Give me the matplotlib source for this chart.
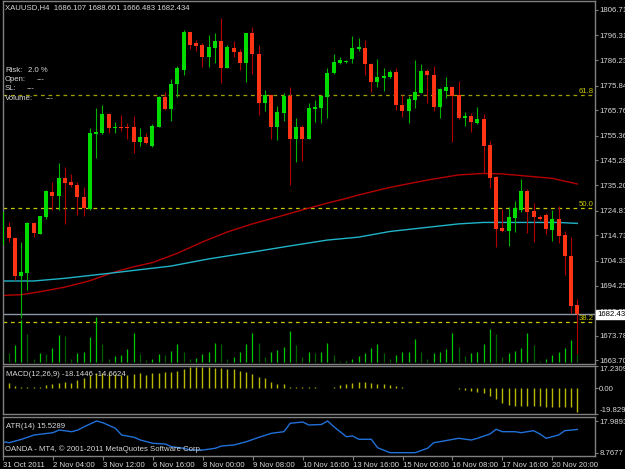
import numpy as np
import matplotlib
matplotlib.use("Agg")
import matplotlib.pyplot as plt

plt.rcParams['font.family'] = ['Liberation Sans', 'DejaVu Sans']

# XAUUSD H4 candles
opens = [1710.8, 1718.3, 1713.5, 1698.1, 1699.5, 1719.9, 1715.3, 1722.1, 1732.5, 1730.8,
         1738.0, 1736.4, 1735.3, 1730.5, 1725.4, 1756.1, 1756.6, 1764.3, 1758.7, 1759.1,
         1759.1, 1758.8, 1752.9, 1754.7, 1751.2, 1759.1, 1771.1, 1766.2, 1776.4, 1782.2,
         1797.6, 1793.1, 1792.4, 1787.4, 1791.3, 1794.2, 1783.1, 1791.3, 1789.4, 1784.9,
         1797.2, 1788.7, 1768.9, 1772.0, 1759.1, 1764.8, 1771.6, 1754.0, 1759.1, 1754.0,
         1766.3, 1766.8, 1771.3, 1780.9, 1784.9, 1785.5, 1786.6, 1790.7, 1791.3, 1784.5,
         1777.4, 1778.8, 1779.5, 1781.3, 1767.9, 1765.6, 1770.0, 1772.9, 1781.8, 1780.2,
         1767.2, 1773.8, 1775.1, 1772.0, 1762.7, 1763.4, 1760.7, 1762.1, 1751.6, 1738.4,
         1717.6, 1716.6, 1721.9, 1725.1, 1733.0, 1724.7, 1722.3, 1723.0, 1716.9, 1721.4,
         1714.9, 1706.4, 1686.107]
highs = [1724.7, 1720.1, 1714.1, 1712.1, 1720.2, 1720.3, 1722.8, 1733.2, 1736.6, 1744.1,
         1742.5, 1739.8, 1736.6, 1734.6, 1758.4, 1766.6, 1767.9, 1764.8, 1761.1, 1763.8,
         1760.7, 1763.4, 1758.4, 1756.4, 1760.2, 1771.6, 1773.4, 1778.4, 1783.8, 1798.6,
         1797.9, 1794.5, 1793.4, 1796.5, 1797.2, 1803.4, 1792.4, 1794.2, 1790.7, 1797.4,
         1799.6, 1792.4, 1774.0, 1772.4, 1767.5, 1772.7, 1775.1, 1762.5, 1759.8, 1768.9,
         1770.0, 1772.0, 1782.9, 1788.7, 1787.4, 1786.3, 1796.1, 1795.1, 1794.5, 1784.9,
         1786.6, 1782.9, 1782.2, 1782.9, 1772.0, 1771.6, 1786.3, 1784.7, 1782.5, 1783.8,
         1774.7, 1779.5, 1775.7, 1777.8, 1764.9, 1764.5, 1767.0, 1764.3, 1753.4, 1738.9,
         1725.4, 1726.2, 1728.7, 1737.7, 1733.5, 1728.0, 1723.0, 1723.7, 1725.1, 1726.7,
         1716.6, 1713.9, 1688.601]
lows = [1710.4, 1712.1, 1696.5, 1681.0, 1692.4, 1714.2, 1715.1, 1721.4, 1725.1, 1725.1,
        1719.4, 1734.6, 1723.0, 1722.6, 1725.1, 1746.2, 1756.1, 1756.6, 1756.6, 1757.4,
        1753.9, 1748.5, 1751.2, 1752.0, 1750.9, 1758.8, 1765.9, 1761.5, 1771.3, 1780.2,
        1790.7, 1790.1, 1783.6, 1783.6, 1784.9, 1776.8, 1782.9, 1787.6, 1782.2, 1777.4,
        1780.6, 1763.8, 1765.6, 1753.9, 1753.6, 1761.5, 1735.3, 1744.8, 1745.2, 1753.9,
        1761.1, 1760.7, 1762.5, 1780.6, 1784.8, 1785.1, 1785.2, 1790.1, 1780.2, 1773.4,
        1775.4, 1773.8, 1778.8, 1765.9, 1762.9, 1760.5, 1766.6, 1772.7, 1768.6, 1765.6,
        1762.5, 1770.7, 1752.9, 1762.1, 1759.4, 1757.0, 1760.2, 1740.0, 1733.9, 1710.1,
        1716.2, 1710.5, 1716.0, 1724.4, 1715.8, 1712.1, 1721.0, 1715.3, 1712.5, 1711.7,
        1698.5, 1682.9, 1666.483]
closes = [1724.4, 1713.5, 1698.1, 1699.9, 1719.9, 1715.6, 1722.6, 1733.0, 1730.8, 1738.0,
          1736.2, 1735.3, 1730.5, 1725.8, 1756.4, 1757.0, 1764.3, 1758.4, 1759.1, 1758.7,
          1758.7, 1752.9, 1754.7, 1752.3, 1759.5, 1771.1, 1766.2, 1776.5, 1782.9, 1797.9,
          1792.4, 1792.0, 1787.6, 1791.7, 1794.2, 1783.1, 1791.5, 1789.4, 1784.9, 1797.2,
          1788.7, 1768.9, 1772.0, 1759.1, 1765.2, 1771.6, 1754.0, 1759.1, 1754.0, 1766.8,
          1767.0, 1771.6, 1781.1, 1785.6, 1786.3, 1785.9, 1791.1, 1791.6, 1784.5, 1777.4,
          1779.2, 1779.9, 1781.3, 1767.9, 1765.6, 1770.4, 1773.4, 1781.8, 1780.2, 1767.2,
          1774.3, 1775.1, 1771.6, 1762.7, 1763.6, 1760.9, 1762.1, 1751.2, 1738.0, 1717.3,
          1716.6, 1722.3, 1725.8, 1733.0, 1724.4, 1722.3, 1721.3, 1717.3, 1721.4, 1714.5,
          1706.3, 1686.0, 1682.434]
volumes = [550, 440, 850, 2100, 1400, 150, 440, 390, 720, 1370,
           1300, 150, 440, 520, 1250, 2250, 900, 150, 290, 350,
           640, 1450, 390, 100, 140, 390, 350, 550, 900, 520,
           150, 220, 400, 520, 940, 900, 150, 250, 490, 900,
           1470, 950, 250, 490, 600, 750, 1550, 840, 250, 520,
           440, 520, 940, 350, 50, 50, 150, 320, 440, 720,
           890, 470, 150, 350, 490, 520, 1140, 490, 150, 470,
           520, 640, 1450, 750, 290, 440, 490, 890, 1650, 1390,
           250, 470, 550, 720, 1450, 850, 50, 150, 350, 520,
           690, 1100, 390]
macd_hist = [5.1, 4.4, 1.8, 0.8, 0.8, 0.8, 1.3, 2.6, 3.3, 4.4,
             5.1, 4.4, 6.4, 7.7, 10.3, 11.6, 12.1, 11.6, 11.1, 10.3,
             10.3, 11.1, 11.6, 10.3, 11.6, 12.1, 12.9, 12.9, 13.4, 14.7,
             16.2, 16.7, 16.2, 16.2, 15.5, 15.5, 14.7, 14.7, 13.7, 12.9,
             11.1, 9.0, 7.7, 5.1, 3.3, 3.3, 0.8, 0.8, 1.3, 0.8,
             0.8, 0.4, 0.4, 0.8, 2.6, 3.3, 4.4, 5.1, 5.1, 3.9,
             3.3, 3.3, 2.8, 1.8, 0.8, 0.3, 0.0, 0.3, 0.5, 0.0,
             0.0, 0.0, 0.0, -0.5, -1.3, -2.1, -2.6, -3.9, -5.9, -8.5,
             -11.6, -12.9, -13.7, -13.7, -13.7, -13.7, -13.7, -14.2, -14.2, -14.2,
             -14.2, -14.2, -18.1446]

atr_idx = [0, 1, 3, 5, 8, 9, 11, 12, 13, 15, 16, 18, 19, 21, 22, 24, 26, 27, 29, 30,
           32, 34, 35, 37, 39, 41, 43, 45, 46, 48, 49, 51, 52, 53, 55, 56, 57, 59, 60, 62,
           64, 66, 68, 69, 70, 73, 75, 76, 78, 79, 80, 82, 83, 85, 86, 87, 89, 90, 92]
atr_val = [11.97, 11.68, 12.67, 13.92, 14.59, 15.37, 14.88, 15.37, 16.33, 17.99, 17.49, 15.87,
           13.92, 13.25, 12.46, 11.50, 11.30, 10.51, 10.05, 9.55, 9.55, 10.05, 10.72, 11.01,
           11.97, 13.25, 14.41, 14.88, 17.32, 17.70, 16.83, 16.97, 17.99, 16.33, 13.42, 13.63,
           12.67, 12.67, 10.22, 8.77, 8.77, 8.77, 10.05, 11.68, 11.97, 12.96, 12.46, 12.96,
           14.21, 15.58, 14.88, 14.88, 14.59, 15.17, 14.21, 12.96, 13.92, 15.17, 15.53]

ma_slow_idx = [0, 3, 6, 10, 14, 18, 21, 24, 28, 32, 36, 40, 44, 48, 52, 55, 57, 62, 68, 73,
               77, 80, 84, 88, 92]
ma_slow_val = [1690.2, 1690.5, 1691.7, 1693.6, 1696.2, 1699.8, 1701.9, 1703.6, 1707.4, 1712.0,
               1716.1, 1719.4, 1722.2, 1725.1, 1727.9, 1729.8, 1731.2, 1734.3, 1737.3, 1739.4,
               1740.0, 1739.8, 1738.9, 1738.0, 1735.7]
ma_fast_idx = [0, 5, 10, 17, 27, 33, 40, 46, 52, 57, 62, 68, 73, 77, 89, 92]
ma_fast_val = [1696.1, 1696.1, 1697.2, 1699.2, 1702.2, 1705.1, 1707.9, 1710.4, 1712.8, 1714.0,
               1716.3, 1718.0, 1719.4, 1720.0, 1720.0, 1719.6]

fib_levels = [1772.0, 1725.8, 1679.4]
fib_names = ['61.8', '50.0', '38.2']
last_price = 1682.43

price_ticks = [1806.71, 1796.31, 1786.23, 1775.84, 1765.76, 1755.36, 1745.28, 1735.20,
               1724.81, 1714.73, 1704.33, 1694.25, 1683.85, 1673.78, 1663.70]
macd_ticks = [17.2309, 0.0, -19.8291]
macd_labels = ['17.2309', '0.00', '-19.8291']
atr_ticks = [17.9893, 8.7677]
time_idx = [0, 8, 16, 24, 32, 40, 48, 56, 64, 72, 80, 88]
time_labels = ['31 Oct 2011', '2 Nov 04:00', '3 Nov 12:00', '6 Nov 16:00', '8 Nov 00:00',
               '9 Nov 08:00', '10 Nov 16:00', '13 Nov 16:00', '15 Nov 00:00',
               '16 Nov 08:00', '17 Nov 16:00', '20 Nov 20:00']

W, H = 625, 469
L, R = 3, 595
bar_px, first_px = 6.25, 2.3
xlo = (L - first_px) / bar_px
xhi = (R - first_px) / bar_px
FS = 5.6
TXT = '#d8d8d8'
GRID = '#808080'

fig = plt.figure(figsize=(W / 100, H / 100), dpi=100, facecolor='black')


def panel(top, bottom):
    a = fig.add_axes([L / W, 1 - bottom / H, (R - L) / W, (bottom - top) / H])
    a.set_facecolor('black')
    a.set_xlim(xlo, xhi)
    for s in a.spines.values():
        s.set_color(GRID)
        s.set_linewidth(1)
    a.yaxis.tick_right()
    a.tick_params(axis='y', colors=GRID, labelcolor=TXT, labelsize=FS, length=2, width=0.8, pad=1)
    a.tick_params(axis='x', length=0, labelbottom=False)
    return a


x = np.arange(len(opens))
o = np.array(opens)
c = np.array(closes)
up = c >= o

# ---- main price panel
ax = panel(1, 364)
ax.set_ylim(1662.22, 1810.38)

vax = ax.twinx()
vax.set_ylim(-100, 18050)
vax.set_xlim(xlo, xhi)
vax.set_yticks([])
vax.tick_params(axis='both', length=0, labelleft=False, labelright=False)
for s in vax.spines.values():
    s.set_visible(False)
vcol = ['#00c800' if i == 0 or volumes[i] >= volumes[i - 1] else '#006000' for i in range(len(volumes))]
vax.vlines(x, 0, volumes, colors=vcol, lw=0.9)

# twinx moved the price ticks to the left, put them back on the right
ax.yaxis.tick_right()
ax.set_yticks(price_ticks)
ax.set_yticklabels(['%.2f' % v for v in price_ticks])
ax.tick_params(axis='y', left=False, labelleft=False, right=True, labelright=True,
               colors=GRID, labelcolor=TXT, labelsize=FS, length=2, width=0.8, pad=1)

for lvl, name, col in zip(fib_levels, fib_names, ['#a0a000', '#c8c800', '#c8c800']):
    ax.axhline(lvl, color=col, lw=0.9, ls=(0, (3, 3)), zorder=1)
    ax.text(0.998, lvl, name, transform=ax.get_yaxis_transform(), ha='right', va='bottom',
            color='#c8c800', fontsize=FS)
ax.axhline(last_price, color='#8c98a4', lw=1, zorder=1)

ax.plot(ma_slow_idx, ma_slow_val, color='#b40000', lw=1, zorder=2)
ax.plot(ma_fast_idx, ma_fast_val, color='#20b4c8', lw=1, zorder=2)

wick_col = np.where(up, '#00b400', '#b40000')
body_col = np.where(up, '#00dc00', '#ff3414')
ax.vlines(x, lows, highs, colors=wick_col, lw=0.8, zorder=3)
body_h = np.maximum(np.abs(c - o), 0.4)
ax.bar(x, body_h, bottom=np.minimum(o, c), width=0.64, color=body_col, lw=0, zorder=4)

ax.text(1.004, last_price, '%.2f' % last_price, transform=ax.get_yaxis_transform(),
        ha='left', va='center', fontsize=FS, color='black', zorder=10, clip_on=False,
        bbox=dict(boxstyle='square,pad=0.15', fc='white', ec='white'))

# ---- MACD panel
mx = panel(366, 414)
mx.set_ylim(-19.8291, 17.2309)
mx.vlines(x, 0, macd_hist, colors='#b8b800', lw=1.0)
mx.set_yticks(macd_ticks)
mx.set_yticklabels(macd_labels)
tl = mx.get_yticklabels()
tl[0].set_va('top')
tl[-1].set_va('bottom')

# ---- ATR panel
tx = panel(417, 456)
tx.set_ylim(7.808, 19.153)
tx.plot(atr_idx, atr_val, color='#2070d8', lw=1)
tx.set_yticks(atr_ticks)
tx.set_yticklabels(['%.4f' % v for v in atr_ticks])
tx.set_xticks(time_idx)
tx.set_xticklabels(time_labels, ha='left')
tx.tick_params(axis='x', length=3, width=0.8, colors=GRID, labelcolor=TXT, labelsize=FS,
               pad=1, labelbottom=True)

# ---- texts
def ftext(px, py, s, **kw):
    fig.text(px / W, 1 - py / H, s, color=TXT, fontsize=FS, va='center', **kw)

ftext(5, 8, 'XAUUSD,H4  1686.107 1688.601 1666.483 1682.434')
ftext(5, 70, 'Risk:')
ftext(28, 70, '2.0 %')
ftext(5, 79.5, 'Open:')
ftext(37, 79.5, '---')
ftext(5, 89, 'SL:')
ftext(27, 89, '---')
ftext(5, 98.5, 'Volume:')
ftext(46, 98.5, '---')
ftext(6, 375, 'MACD(12,26,9) -18.1446 -14.6624')
ftext(6, 426, 'ATR(14) 15.5289')
ftext(5, 449, 'OANDA - MT4, \u00a9 2001-2011 MetaQuotes Software Corp.')

fig.savefig('out.png', dpi=100, facecolor='black')
